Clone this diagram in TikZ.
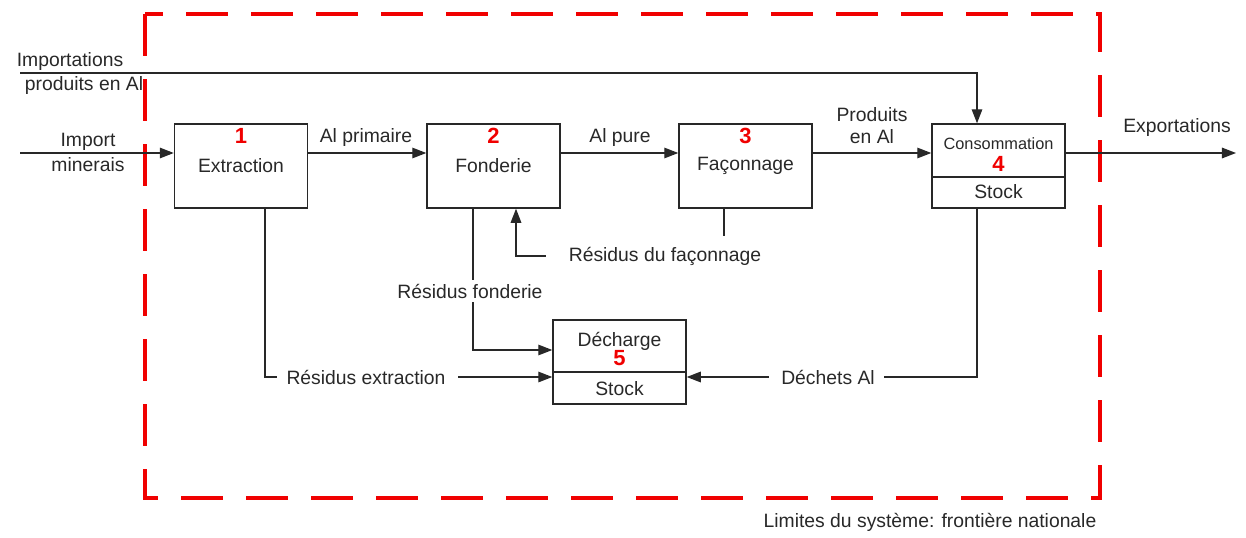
\documentclass[tikz,border=0pt]{standalone}
\usepackage{fontspec}
\setmainfont{Liberation Sans}
\usetikzlibrary{arrows.meta,calc}
\definecolor{ink}{RGB}{40,40,40}
\definecolor{bred}{RGB}{240,0,0}
\tikzset{
  px/.style={x=0.02cm,y=-0.02cm},
  proc/.style={draw=ink,line width=0.8pt,minimum width=2.66cm,minimum height=1.68cm,inner sep=0pt},
  lbl/.style={text=ink,font=\fontsize{11}{12.5}\selectfont,inner sep=1pt,align=center},
  small/.style={text=ink,font=\fontsize{9.3}{11}\selectfont,inner sep=0pt},
  num/.style={text=bred,font=\fontsize{12.5}{14}\selectfont\bfseries,inner sep=0pt},
  flow/.style={draw=ink,line width=0.8pt},
  arr/.style={flow,-{Triangle[length=8pt,width=6pt]}},
  border/.style={draw=bred,line width=2.5pt,dash pattern=on 24pt off 13pt}
}
\begin{document}
\begin{tikzpicture}[px]
\useasboundingbox (0,0) rectangle (1246,537);
% system boundary
\draw[border] (145,14) rectangle (1100,498);
\node[lbl] (lim) at (930,522) {Limites du système: frontière nationale};
% boxes
\node[proc] (b1) at (241,166) {};
\node[proc] (b2) at (493.5,166) {};
\node[proc] (b3) at (745.5,166) {};
\node[proc] (b4) at (998.5,166) {};
\node[proc] (b5) at (619.5,362) {};
\draw[flow] (b4.west |- 0,177) coordinate (d4a) -- (b4.east |- 0,177) coordinate (d4b);
\draw[flow] (b5.west |- 0,372) coordinate (d5a) -- (b5.east |- 0,372) coordinate (d5b);
% box texts
\node[num] (n1) at (241,136) {1};
\node[lbl] (t1) at (241,166) {Extraction};
\node[num] (n2) at (493.5,136) {2};
\node[lbl] (t2) at (493.5,166) {Fonderie};
\node[num] (n3) at (745.5,136) {3};
\node[lbl] (t3) at (745.5,166) {Façonnage};
\node[small] (t4) at (998.5,144) {Consommation};
\node[num] (n4) at (998.5,164) {4};
\node[lbl] (s4) at (998.5,192) {Stock};
\node[lbl] (t5) at (619.5,341) {Décharge};
\node[num] (n5) at (619.5,358) {5};
\node[lbl] (s5) at (619.5,389) {Stock};
% external inputs/outputs
\coordinate (imS) at (20,153);
\node[lbl] (imL1) at (88,142) {Import};
\node[lbl] (imL2) at (88,165) {minerais};
\draw[arr] (imS) -- (b1.west |- imS);
\coordinate (ipS) at (20,73);
\node[lbl] (ipL1) at (70,62) {Importations};
\node[lbl] (ipL2) at (84,86) {produits en Al};
\draw[arr] (ipS) -- (977,73) -- (b4.north -| 977,0);
\coordinate (exE) at (1236,153);
\draw[arr] (b4.east |- exE) -- (exE);
\node[lbl] (exL) at (1177,128) {Exportations};
% main chain
\draw[arr] (b1.east |- 0,153) -- (b2.west |- 0,153);
\node[lbl] (apL) at (366,138) {Al primaire};
\draw[arr] (b2.east |- 0,153) -- (b3.west |- 0,153);
\node[lbl] (puL) at (620,138) {Al pure};
\draw[arr] (b3.east |- 0,153) -- (b4.west |- 0,153);
\node[lbl] (prL1) at (872,115) {Produits};
\node[lbl] (prL2) at (872,137) {en Al};
% residues of shaping
\node[lbl] (rfL) at (665,256) {Résidus du façonnage};
\coordinate (rfE) at (724,236);
\draw[flow] (b3.south -| rfE) -- (rfE);
\draw[arr] ([xshift=-12pt]rfL.west) -| (b2.south -| 516,0);
% foundry residues
\node[lbl] (foL) at (470,291) {Résidus fonderie};
\draw[flow] (b2.south -| 473,0) -- (473,280);
\draw[arr] (473,302) -- (473,350) -- (b5.west |- 0,350);
% extraction residues
\node[lbl] (exR) at (366,377) {Résidus extraction};
\draw[flow] (b1.south -| 265,0) -- (265,377) -- ([xshift=-4pt]exR.west);
\draw[arr] ([xshift=6pt]exR.east) -- (b5.west |- 0,377);
% waste
\node[lbl] (waL) at (828,377) {Déchets Al};
\draw[flow] (b4.south -| 977,0) -- (977,377) -- ([xshift=4pt]waL.east);
\draw[arr] ([xshift=-6pt]waL.west) -- (b5.east |- 0,377);
\end{tikzpicture}
\end{document}
